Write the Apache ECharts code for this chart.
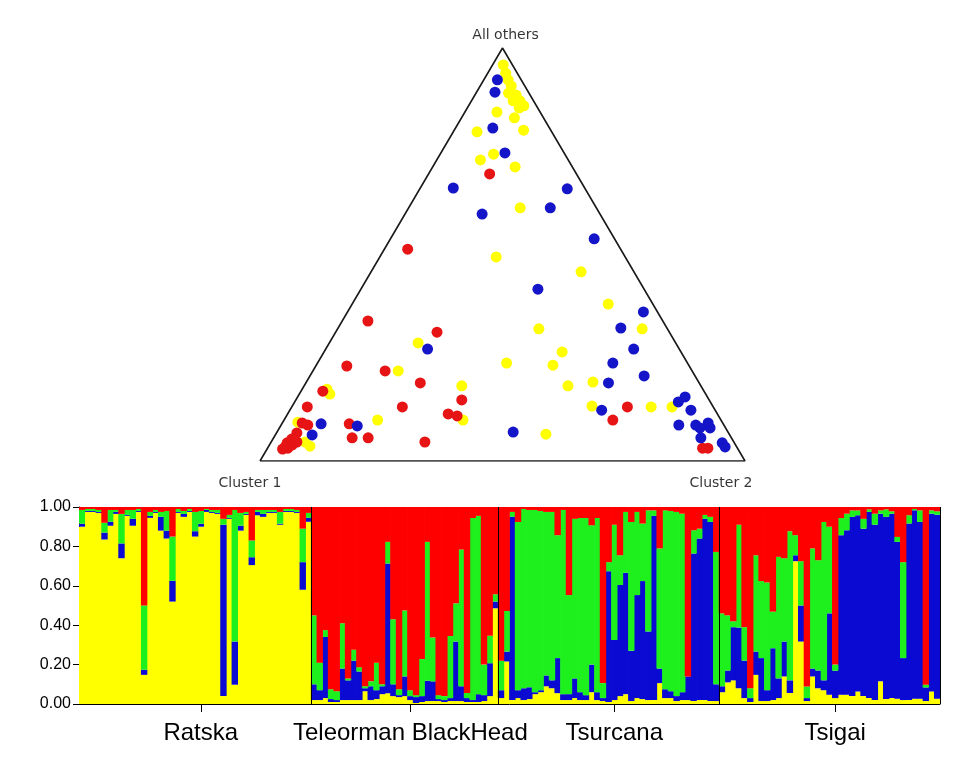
<!DOCTYPE html>
<html>
<head>
<meta charset="utf-8">
<script src="https://cdn.jsdelivr.net/npm/echarts@6/dist/echarts.min.js"></script>
<style>html,body{margin:0;padding:0;background:#fff}#c{width:980px;height:764px}</style>
</head>
<body>
<div id="c"></div>
<script>
// ---------- Ternary plot data: [Cluster 2 share, All-others share]; Cluster 1 = remainder ----------
const vertexNames = ['Cluster 1', 'Cluster 2', 'All others'];
const yellowPts = [
  [.022,.959],[.037,.939],[.050,.923],[.064,.908],[.067,.891],[.085,.886],[.086,.872],[.100,.872],[.114,.860],[.107,.855],
  [.066,.845],[.109,.831],[.049,.797],[.143,.801],[.110,.743],[.090,.729],[.170,.712],[.230,.613],[.240,.494],[.433,.458],
  [.528,.380],[.415,.320],[.628,.320],[.491,.264],[.390,.237],[.488,.232],[.544,.182],[.591,.191],[.618,.133],[.741,.131],
  [.784,.131],[.557,.065],[.183,.286],[.176,.218],[.325,.182],[.051,.174],[.063,.162],[.369,.099],[.193,.099],[.031,.094],
  [.070,.046],[.085,.036]
];
const redPts = [
  [.126,.695],[.048,.513],[.692,.131],[.678,.099],[.908,.031],[.897,.031],
  [.053,.339],[.209,.312],[.064,.230],[.149,.218],[.236,.189],[.045,.169],[.342,.148],[.032,.131],[.228,.131],[.331,.114],
  [.352,.109],[.139,.090],[.041,.092],[.055,.087],[.042,.068],[.162,.056],[.195,.056],[.317,.046],[.035,.034],[.047,.039],
  [.042,.031],[.053,.046],[.034,.044],[.032,.029],[.039,.053]
];
const bluePts = [
  [.028,.923],[.038,.893],[.077,.806],[.132,.746],[.068,.661],[.304,.659],[.292,.613],[.159,.598],[.420,.538],[.365,.416],
  [.610,.361],[.583,.322],[.635,.271],[.609,.237],[.689,.206],[.624,.189],[.799,.155],[.791,.143],[.643,.123],[.827,.123],
  [.820,.087],[.855,.087],[.878,.092],[.867,.080],[.888,.080],[.881,.056],[.931,.044],[.942,.034],[.487,.070],
  [.210,.271],[.081,.090],[.158,.085],[.076,.063]
];

// ---------- STRUCTURE bar plot: per individual [yellow, blue, green]; red = remainder ----------
const groupNames = ['Ratska', 'Teleorman BlackHead', 'Tsurcana', 'Tsigai'];
const ratskaQ = [
  [.90,.015,.07],[.975,.005,.01],[.975,.005,.01],[.97,.005,.01],[.835,.035,.05],[.905,.02,.06],[.965,.01,.01],[.74,.075,.15],
  [.955,.005,.025],[.905,.035,.045],[.975,.005,.01],[.148,.026,.326],[.945,.01,.02],[.97,.005,.01],[.88,.07,.025],[.84,.04,.10],
  [.52,.105,.225],[.97,.005,.015],[.95,.015,.015],[.975,.005,.01],[.85,.027,.098],[.90,.015,.065],[.975,.01,.005],[.97,.005,.01],
  [.965,.005,.015],[.04,.87,.03],[.94,.005,.015],[.098,.219,.668],[.88,.025,.065],[.96,.005,.01],[.705,.04,.085],[.958,.017,.01],
  [.95,.015,.02],[.97,.005,.01],[.97,.005,.01],[.91,.005,.06],[.975,.005,.01],[.975,.005,.01],[.97,.005,.01],[.58,.14,.17],
  [.925,.02,.025]
];
const teleormanQ = [
  [.02,.08,.35],[.02,.05,.14],[.03,.31,.035],[.01,.015,.05],[.01,.01,.045],[.02,.16,.23],[.02,.10,.01],[.02,.20,.055],
  [.02,.145,.022],[.065,.015,.01],[.02,.07,.025],[.025,.045,.14],[.05,.04,.01],[.055,.658,.11],[.04,.06,.33],[.035,.01,.03],
  [.04,.10,.335],[.02,.02,.03],[.005,.03,.01],[.01,.03,.188],[.015,.103,.705],[.015,.10,.222],[.015,.01,.02],[.01,.01,.02],
  [.015,.015,.315],[.015,.302,.194],[.015,.075,.694],[.01,.02,.026],[.01,.01,.924],[.01,.04,.905],[.015,.03,.155],[.04,.167,.139],
  [.486,.034,.037]
];
const tsurcanaQ = [
  [.03,.04,.15],[.216,.05,.206],[.02,.93,.025],[.03,.04,.854],[.02,.06,.91],[.025,.06,.90],[.05,.01,.925],[.06,.01,.91],
  [.09,.055,.83],[.08,.04,.855],[.055,.178,.624],[.02,.03,.935],[.02,.03,.503],[.03,.10,.81],[.02,.04,.884],[.02,.025,.899],
  [.06,.14,.707],[.02,.04,.884],[.015,.015,.076],[.01,.664,.046],[.02,.305,.585],[.04,.564,.151],[.05,.616,.309],[.015,.255,.654],
  [.03,.523,.422],[.025,.599,.292],[.02,.348,.615],[.02,.935,.028],[.106,.074,.61],[.03,.045,.908],[.03,.035,.915],[.015,.025,.935],
  [.02,.04,.906],[.02,.12,.0],[.015,.749,.118],[.02,.82,.05],[.02,.92,.02],[.015,.909,.026],[.015,.085,.672]
];
const tsigaiQ = [
  [.06,.03,.37],[.11,.06,.28],[.12,.27,.03],[.08,.308,.522],[.03,.19,.17],[.01,.02,.05],[.148,.118,.489],[.015,.218,.391],
  [.015,.055,.547],[.02,.263,.186],[.03,.10,.617],[.14,.177,.423],[.056,.064,.757],[.725,.03,.102],[.317,.183,.225],[.015,.015,.059],
  [.14,.04,.61],[.08,.09,.56],[.07,.05,.804],[.047,.413,.44],[.03,.139,.031],[.047,.81,.087],[.047,.835,.084],[.04,.91,.033],
  [.064,.894,.025],[.04,.85,.05],[.03,.945,.013],[.02,.89,.056],[.115,.851,.017],[.025,.925,.038],[.03,.936,.012],[.027,.796,.025],
  [.02,.213,.487],[.02,.896,.042],[.027,.956,.007],[.027,.897,.059],[.015,.069,.014],[.064,.902,.017],[.027,.934,.017]
];
const yTicks = [0, 0.2, 0.4, 0.6, 0.8, 1.0];

// ---------- build ----------
const groups = [ratskaQ, teleormanQ, tsurcanaQ, tsigaiQ];
const cats = [], yel = [], blu = [], grn = [], red = [];
const tickIdx = {}, bounds = [];
let start = 0;
groups.forEach((rows, gi) => {
  rows.forEach((q, i) => {
    cats.push(groupNames[gi] + ' ' + (i + 1));
    yel.push(q[0]); blu.push(q[1]); grn.push(q[2]);
    red.push(+(1 - q[0] - q[1] - q[2]).toFixed(3));
  });
  tickIdx[start + Math.ceil(rows.length / 2)] = groupNames[gi];
  start += rows.length;
  bounds.push(start);
});
const N = cats.length;

// ternary projection (Cluster 1 at left, Cluster 2 at right, All others at apex)
const proj = p => [p[0] + p[1] / 2, p[1]];

const chart = echarts.init(document.getElementById('c'), null, {renderer: 'canvas'});
const barCommon = {type: 'bar', xAxisIndex: 1, yAxisIndex: 1, stack: 'q', barWidth: 6.4, barGap: '0%', silent: true};
const dotCommon = {type: 'scatter', xAxisIndex: 0, yAxisIndex: 0, symbol: 'circle', symbolSize: 11, silent: true};

chart.setOption({
  animation: false,
  backgroundColor: '#ffffff',
  grid: [
    {left: 260, top: 48, width: 485, height: 413},
    {left: 79, top: 507, width: 861, height: 197}
  ],
  xAxis: [
    {gridIndex: 0, type: 'value', min: 0, max: 1, show: false},
    {gridIndex: 1, type: 'category', data: cats,
      axisLine: {show: true, lineStyle: {color: '#000', width: 1}},
      axisTick: {show: true, alignWithLabel: true, length: 8, lineStyle: {color: '#000'},
        interval: (idx) => tickIdx[idx] !== undefined},
      axisLabel: {interval: (idx) => tickIdx[idx] !== undefined, formatter: (v, idx) => tickIdx[idx] || '',
        margin: 17, fontSize: 24, color: '#000', fontFamily: 'Liberation Sans'},
      splitLine: {show: false}},
    {gridIndex: 1, type: 'value', min: 0, max: N, show: false}
  ],
  yAxis: [
    {gridIndex: 0, type: 'value', min: 0, max: 1, show: false},
    {gridIndex: 1, type: 'value', min: 0, max: 1, interval: 0.2,
      axisLine: {show: true, lineStyle: {color: '#000', width: 1}},
      axisTick: {show: true, length: 6, lineStyle: {color: '#000'}},
      axisLabel: {formatter: v => v.toFixed(2), fontSize: 16, color: '#000', margin: 8, fontFamily: 'Liberation Sans'},
      splitLine: {show: false}}
  ],
  series: [
    {type: 'line', xAxisIndex: 0, yAxisIndex: 0, data: [[0,0],[1,0],[0.5,1],[0,0]], symbol: 'none', silent: true,
      lineStyle: {color: '#1a1a1a', width: 1.6}},
    {type: 'scatter', xAxisIndex: 0, yAxisIndex: 0, symbolSize: 0, silent: true,
      label: {show: true, formatter: p => p.name, color: '#000', fontSize: 14, fontFamily: 'DejaVu Sans'},
      data: [
        {name: vertexNames[0], value: proj([0, 0]), label: {position: 'bottom', distance: 15, offset: [-10, 0]}},
        {name: vertexNames[1], value: proj([1, 0]), label: {position: 'bottom', distance: 15, offset: [-24, 0]}},
        {name: vertexNames[2], value: proj([0, 1]), label: {position: 'top', distance: 6, offset: [3, 0]}}
      ]},
    Object.assign({}, dotCommon, {name: 'yellow', data: yellowPts.map(proj), itemStyle: {color: '#ffff00', opacity: 1}}),
    Object.assign({}, dotCommon, {name: 'red', data: redPts.map(proj), itemStyle: {color: '#e61414', opacity: 1}}),
    Object.assign({}, dotCommon, {name: 'blue', data: bluePts.map(proj), itemStyle: {color: '#1414c8', opacity: 1}}),
    Object.assign({}, barCommon, {name: 'Yellow cluster', data: yel, itemStyle: {color: '#ffff00'}}),
    Object.assign({}, barCommon, {name: 'Blue cluster', data: blu, itemStyle: {color: '#0a0ad2'}}),
    Object.assign({}, barCommon, {name: 'Green cluster', data: grn, itemStyle: {color: '#1ef01e'}}),
    Object.assign({}, barCommon, {name: 'Red cluster', data: red, itemStyle: {color: '#ff0000'}}),
    {type: 'line', xAxisIndex: 2, yAxisIndex: 1, data: [[0, 0]], symbol: 'none', silent: true, lineStyle: {opacity: 0},
      markLine: {silent: true, symbol: ['none', 'none'], label: {show: false},
        lineStyle: {color: '#000', width: 1, type: 'solid'},
        data: bounds.map(b => ({xAxis: b}))}}
  ]
});
</script>
</body>
</html>
